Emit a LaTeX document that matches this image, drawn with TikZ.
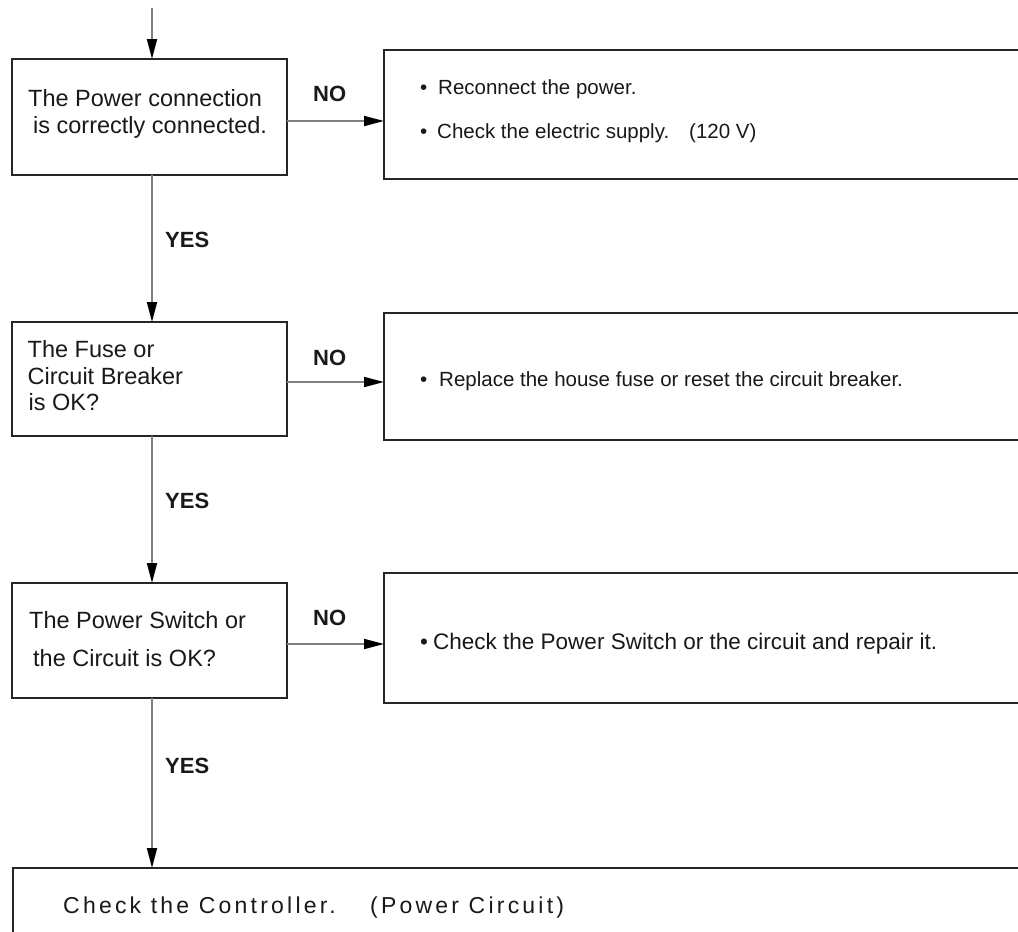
\documentclass[tikz,border=0pt]{standalone}
\usepackage{fontspec}
\setmainfont{Liberation Sans}
\newfontfamily\spacedfont[LetterSpace=14]{Liberation Sans}
\usetikzlibrary{arrows.meta}
\begin{document}
\begin{tikzpicture}[x=1pt,y=-1pt,
  box/.style={draw=black!85, line width=2.8pt, inner sep=0pt, outer sep=0pt, fill=white},
  conn/.style={draw=black!50, line width=1.8pt, -{Triangle[length=20pt,width=10pt,color=black]}},
  lefttxt/.style={anchor=base west, inner sep=0pt, font=\fontsize{23.5}{28}\selectfont, text=black!90},
  righttxt/.style={anchor=base west, inner sep=0pt, font=\fontsize{20.5}{24}\selectfont, text=black!90},
  lbl/.style={anchor=base west, inner sep=0pt, font=\fontsize{22}{26}\selectfont\bfseries, text=black!90}]
\useasboundingbox (0,0) rectangle (1018,932);
\clip (0,0) rectangle (1018,932);
\fill[white] (0,0) rectangle (1018,932);

% left decision boxes
\node[box, minimum width=275pt, minimum height=116pt] (b1) at (149.5,117) {};
\node[box, minimum width=275pt, minimum height=114pt] (b2) at (149.5,379) {};
\node[box, minimum width=275pt, minimum height=115pt] (b3) at (149.5,640.5) {};
% right action boxes
\node[box, minimum width=656pt, minimum height=129pt] (r1) at (712,114.5) {};
\node[box, minimum width=656pt, minimum height=127pt] (r2) at (712,376.5) {};
\node[box, minimum width=656pt, minimum height=130pt] (r3) at (712,638) {};
% bottom box
\node[box, minimum width=1027pt, minimum height=92pt] (b4) at (526.5,914) {};

% texts of left boxes
\node[lefttxt] (t1a) at (28,106.5) {The Power connection};
\node[lefttxt] (t1b) at (33,133) {is correctly connected.};
\node[lefttxt] (t2a) at (27.5,357) {The Fuse or};
\node[lefttxt] (t2b) at (27.5,384) {Circuit Breaker};
\node[lefttxt] (t2c) at (28.5,410) {is OK?};
\node[lefttxt] (t3a) at (29,628) {The Power Switch or};
\node[lefttxt] (t3b) at (33,666) {the Circuit is OK?};

% texts of right boxes
\node[righttxt] (u1a) at (420,94) {\textbullet};
\node[righttxt] (v1a) at (438,94) {Reconnect the power.};
\node[righttxt] (u1b) at (420,138) {\textbullet};
\node[righttxt] (v1b) at (437,138) {Check the electric supply.};
\node[righttxt] (w1b) at (689,138) {(120 V)};
\node[righttxt] (u2) at (420,386) {\textbullet};
\node[righttxt] (v2) at (439,386) {Replace the house fuse or reset the circuit breaker.};
\node[righttxt, font=\fontsize{22.5}{26}\selectfont] (u3) at (420,649) {\textbullet};
\node[righttxt, font=\fontsize{22.5}{26}\selectfont] (v3) at (433,649) {Check the Power Switch or the circuit and repair it.};

% bottom text
\node[anchor=base west, inner sep=0pt, font=\fontsize{23}{27}\spacedfont, text=black!90] (c1) at (63,913) {Check the Controller.};
\node[anchor=base west, inner sep=0pt, font=\fontsize{23}{27}\spacedfont, text=black!90] (c2) at (370,913) {(Power Circuit)};

% labels
\node[lbl] (no1) at (313,101) {NO};
\node[lbl] (no2) at (313,365) {NO};
\node[lbl] (no3) at (313,625) {NO};
\node[lbl] (yes1) at (165,247) {YES};
\node[lbl] (yes2) at (165,508) {YES};
\node[lbl] (yes3) at (165,773) {YES};

% connectors
\coordinate (start) at (152,8);
\draw[conn] (start) -- ([xshift=2.5pt]b1.north);
\draw[conn] ([xshift=2.5pt]b1.south) -- ([xshift=2.5pt]b2.north);
\draw[conn] ([xshift=2.5pt]b2.south) -- ([xshift=2.5pt]b3.north);
\draw[conn] ([xshift=2.5pt]b3.south) -- ([xshift=2.5pt]b3.south |- b4.north);
\draw[conn] ([yshift=-4pt]b1.east) -- ([yshift=-4pt]b1.east -| r1.west);
\draw[conn] ([yshift=-3pt]b2.east) -- ([yshift=-3pt]b2.east -| r2.west);
\draw[conn] ([yshift=-3.5pt]b3.east) -- ([yshift=-3.5pt]b3.east -| r3.west);
\end{tikzpicture}
\end{document}
